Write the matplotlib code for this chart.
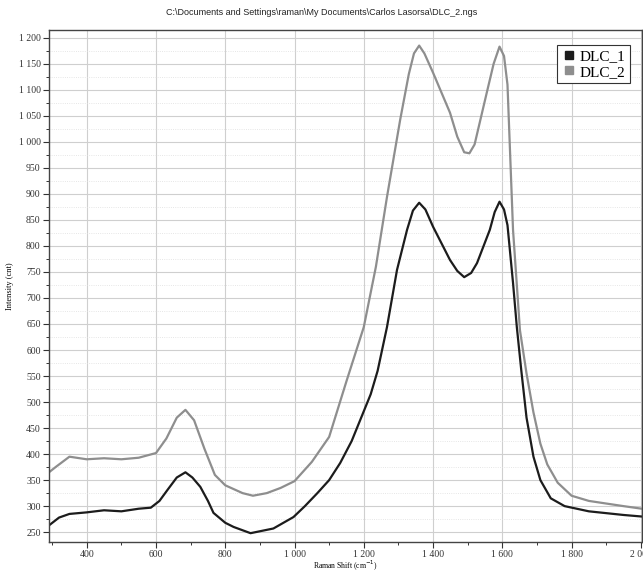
import numpy as np
import matplotlib
matplotlib.use("Agg")
import matplotlib.pyplot as plt
from matplotlib.ticker import MultipleLocator, FuncFormatter
from matplotlib.lines import Line2D

# values (Raman shift, counts)
shift_1 = [291, 320, 350, 400, 450, 500, 550, 585, 610, 633, 660, 685, 705, 728,
           750, 766, 800, 824, 873, 939, 997, 1030, 1066, 1100, 1132, 1165, 1198,
           1220, 1240, 1267, 1296, 1325, 1342, 1360, 1378, 1400, 1449, 1470, 1490,
           1510, 1527, 1564, 1578, 1592, 1605, 1615, 1631, 1642, 1655, 1670, 1690,
           1710, 1740, 1780, 1850, 1950, 2003]
dlc_1 = [263, 278, 285, 288, 292, 290, 295, 297, 310, 331, 355, 365, 355, 337,
         310, 287, 268, 260, 248, 257, 279, 300, 325, 350, 383, 425, 479,
         515, 560, 644, 754, 831, 868, 883, 870, 837, 773, 752, 740,
         748, 767, 831, 865, 885, 870, 840, 729, 644, 560, 470, 395,
         350, 315, 300, 290, 283, 280]

shift_2 = [291, 310, 350, 400, 450, 500, 550, 600, 630, 660, 685, 710, 740, 770,
           800, 850, 880, 920, 960, 1000, 1050, 1100, 1150, 1200, 1235, 1267,
           1305, 1330, 1345, 1360, 1375, 1400, 1449, 1470, 1490, 1505, 1520, 1555,
           1575, 1592, 1605, 1615, 1631, 1651, 1670, 1690, 1710, 1730, 1760,
           1800, 1850, 1950, 2003]
dlc_2 = [365, 375, 395, 390, 392, 390, 393, 402, 430, 470, 485, 465, 410, 360,
         340, 325, 320, 325, 335, 348, 385, 433, 540, 644, 760, 894,
         1042, 1130, 1170, 1185, 1170, 1133, 1056, 1010, 980, 978, 995, 1094,
         1150, 1183, 1165, 1110, 831, 638, 555, 480, 420, 380, 345,
         320, 310, 300, 295]

c1 = '#1c1c1c'
c2 = '#8e8e8e'

fig = plt.figure(figsize=(6.43, 5.72), dpi=100)
ax = fig.add_axes([0.0762, 0.0524, 0.922, 0.8952])

ax.plot(shift_2, dlc_2, color=c2, lw=1.6)
ax.plot(shift_1, dlc_1, color=c1, lw=1.6)

ax.set_xlim(291, 2003)
ax.set_ylim(231, 1215)

ax.xaxis.set_major_locator(MultipleLocator(200))
ax.xaxis.set_minor_locator(MultipleLocator(100))
ax.yaxis.set_major_locator(MultipleLocator(50))
ax.yaxis.set_minor_locator(MultipleLocator(25))

def fmt(v, pos):
    v = int(round(v))
    if v >= 1000:
        return '%d %03d' % (v // 1000, v % 1000)
    return str(v)

ax.xaxis.set_major_formatter(FuncFormatter(fmt))
ax.yaxis.set_major_formatter(FuncFormatter(fmt))

for lab in ax.get_xticklabels() + ax.get_yticklabels():
    lab.set_fontfamily('Liberation Serif')
    lab.set_fontsize(7)

ax.tick_params(which='major', direction='out', length=4, width=0.8, pad=2, colors='#333333')
ax.tick_params(which='minor', direction='out', length=2.5, width=0.7, colors='#333333')

ax.grid(True, which='major', color='#cfcfcf', lw=0.8, ls='-')
ax.grid(True, which='minor', axis='y', color='#dedede', lw=0.6, ls=':')
ax.set_axisbelow(True)

for s in ax.spines.values():
    s.set_color('#444444')
    s.set_linewidth(1.0)

fig.text(0.5, 0.979, 'C:\\Documents and Settings\\raman\\My Documents\\Carlos Lasorsa\\DLC_2.ngs',
         ha='center', va='center', fontsize=6.5, family='Liberation Sans', color='#222222')
ax.set_xlabel('Raman Shift (cm$^{-1}$)', fontsize=5.5, family='Liberation Serif', labelpad=0)
ax.set_ylabel('Intensity (cnt)', fontsize=6, family='Liberation Serif', labelpad=3)

handles = [Line2D([], [], ls='', marker='s', ms=6, color=c1, label='DLC_1'),
           Line2D([], [], ls='', marker='s', ms=6, color=c2, label='DLC_2')]
leg = ax.legend(handles=handles, loc='upper right', fancybox=False, framealpha=1,
                edgecolor='#333333', prop={'family': 'Liberation Serif', 'size': 11},
                handletextpad=0.2, handlelength=1.0, borderpad=0.3, labelspacing=0.1,
                bbox_to_anchor=(0.993, 0.985))
leg.get_frame().set_linewidth(0.8)

fig.savefig('out.png', dpi=100)
